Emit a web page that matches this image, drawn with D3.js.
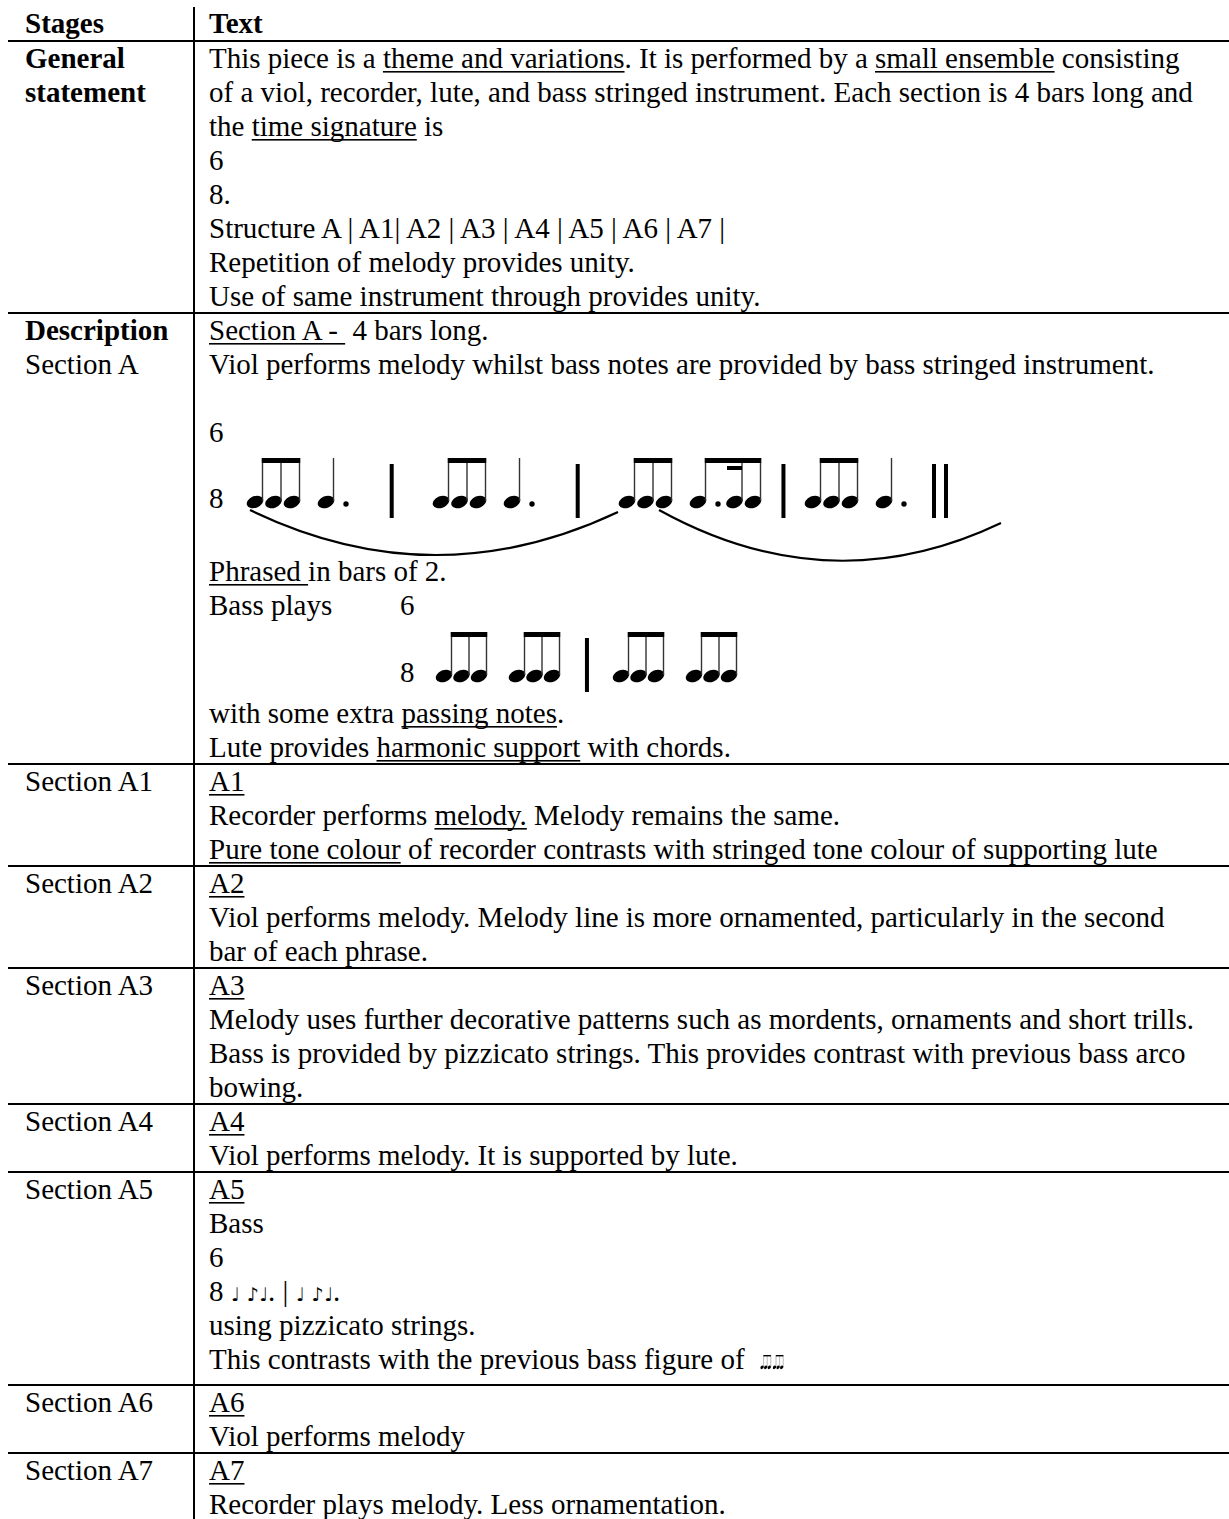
<!DOCTYPE html>
<html><head><meta charset="utf-8">
<script src="https://cdn.jsdelivr.net/npm/d3@7"></script>
<style>
html,body{margin:0;padding:0;background:#fff;}
svg{display:block;}
text{font-family:"Liberation Serif","Times New Roman",serif;font-size:29px;fill:#000;white-space:pre;}
tspan.mus{font-family:"DejaVu Sans",sans-serif;font-size:19px;}
</style></head><body>
<svg id="c" width="1229" height="1519"></svg>
<script>
// ---------- DATA ----------
const headers = ["Stages", "Text"];
// "*" prefix = bold label line
const stages = [
  ["*General", "*statement"],
  ["*Description", "Section A"],
  ["Section A1"],
  ["Section A2"],
  ["Section A3"],
  ["Section A4"],
  ["Section A5"],
  ["Section A6"],
  ["Section A7"]
];
// [..] = underlined, {melody}/{bass} = notation lines, {tab} = tab stop, {fig} = small bass figure
const textGeneral = [
  "This piece is a [theme and variations]. It is performed by a [small ensemble] consisting",
  "of a viol, recorder, lute, and bass stringed instrument. Each section is 4 bars long and",
  "the [time signature] is",
  "6",
  "8.",
  "Structure A | A1| A2 | A3 | A4 | A5 | A6 | A7 |",
  "Repetition of melody provides unity.",
  "Use of same instrument through provides unity."
];
const textSectionA = [
  "[Section A - ] 4 bars long.",
  "Viol performs melody whilst bass notes are provided by bass stringed instrument.",
  "",
  "6",
  "{melody}",
  "[Phrased ]in bars of 2.",
  "Bass plays{tab}6",
  "{bass}",
  "with some extra [passing notes].",
  "Lute provides [harmonic support] with chords."
];
const textA1 = [
  "[A1]",
  "Recorder performs [melody.] Melody remains the same.",
  "[Pure tone colour] of recorder contrasts with stringed tone colour of supporting lute"
];
const textA2 = [
  "[A2]",
  "Viol performs melody. Melody line is more ornamented, particularly in the second",
  "bar of each phrase."
];
const textA3 = [
  "[A3]",
  "Melody uses further decorative patterns such as mordents, ornaments and short trills.",
  "Bass is provided by pizzicato strings. This provides contrast with previous bass arco",
  "bowing."
];
const textA4 = [
  "[A4]",
  "Viol performs melody. It is supported by lute."
];
const textA5 = [
  "[A5]",
  "Bass",
  "6",
  "8 ♩ ♪♩. | ♩ ♪♩.",
  "using pizzicato strings.",
  "This contrasts with the previous bass figure of  {fig}"
];
const textA6 = ["[A6]", "Viol performs melody"];
const textA7 = ["[A7]", "Recorder plays melody. Less ornamentation."];
const cells = [textGeneral, textSectionA, textA1, textA2, textA3, textA4, textA5, textA6, textA7];

// rhythms in sixteenths: each bar = list of beats, each beat = list of note durations
const melodyBars = [
  [[2, 2, 2], [6]],
  [[2, 2, 2], [6]],
  [[2, 2, 2], [3, 1, 2]],
  [[2, 2, 2], [6]]
];
const bassBars = [
  [[2, 2, 2], [2, 2, 2]],
  [[2, 2, 2], [2, 2, 2]]
];
const bassFigure = [
  [[2, 2, 2], [2, 2, 2]]
];
// phrase slurs: from note [bar, beat, note] to note or to the end
const phrases = [
  {from: [0, 0, 0], to: [2, 0, 0]},
  {from: [2, 0, 2], to: null}
];

// ---------- LAYOUT ----------
const svg = d3.select("#c");
const W = 1229, H = 1519;
const colX = [25, 209], dividerX = 194, lineX0 = 8, tabX = 400;
const LH = 34, FIRST = 27, TAIL = 7;
const headerBase = 33, headerLine = 41;

function advanceFor(line, prev) {
  if (line === "{melody}") return 66;
  if (line === "{bass}") return 67;
  if (prev === "{melody}") return 73;
  if (prev === "{bass}") return 41;
  return LH;
}

function parseSegs(s) {
  const out = [];
  const re = /\[([^\]]*)\]/g;
  let last = 0, m;
  while ((m = re.exec(s))) {
    if (m.index > last) out.push({t: s.slice(last, m.index), u: false});
    out.push({t: m[1], u: true});
    last = re.lastIndex;
  }
  if (last < s.length) out.push({t: s.slice(last), u: false});
  const out2 = [];
  out.forEach(seg => {
    seg.t.split(/([♩♪]+)/).forEach(p => {
      if (p) out2.push({t: p, u: seg.u, m: /[♩♪]/.test(p)});
    });
  });
  return out2;
}

function drawText(g, s, x, y, bold) {
  const segs = parseSegs(s);
  const t = g.append("text").attr("x", x).attr("y", y);
  if (bold) t.attr("font-weight", "bold");
  segs.forEach(sg => {
    const ts = t.append("tspan").text(sg.t);
    if (sg.m) ts.attr("class", "mus");
  });
  const node = t.node();
  let idx = 0;
  segs.forEach(sg => {
    const n = sg.t.length;
    if (sg.u && n > 0) {
      const x1 = node.getStartPositionOfChar(idx).x;
      const x2 = node.getEndPositionOfChar(idx + n - 1).x;
      g.append("rect").attr("x", x1).attr("y", y + 3).attr("width", x2 - x1).attr("height", 1.6).attr("fill", "#000");
    }
    idx += n;
  });
  return node;
}

// draws notation with baseline at y=0 in group g
function drawBars(g, bars, o) {
  const xBar = d3.scaleLinear().domain([0, 1]).range([0, o.pitch]);
  const headDy = -6, beamTop = -50, stemOff = 7.5;
  const notes = [];
  const rights = [];
  bars.forEach((beats, b) => {
    let right = 0;
    beats.forEach((beat, k) => {
      let x = xBar(b) + k * o.beatGap;
      const xs = [];
      beat.forEach((d, i) => {
        xs.push(x);
        notes.push({b, k, i, x});
        x += o.step + (d === 3 ? o.dotExtra : 0);
      });
      xs.forEach(hx => {
        g.append("ellipse").attr("cx", hx).attr("cy", headDy).attr("rx", 8.6).attr("ry", 5.8)
          .attr("transform", `rotate(-22,${hx},${headDy})`).attr("fill", "#000");
        g.append("line").attr("x1", hx + stemOff).attr("x2", hx + stemOff)
          .attr("y1", headDy - 1).attr("y2", beamTop).attr("stroke", "#333").attr("stroke-width", 1.4);
      });
      if (beat.length === 1) {
        if (beat[0] === 6) {
          g.append("circle").attr("cx", xs[0] + 20).attr("cy", -4).attr("r", 2.7).attr("fill", "#000");
          right = xs[0] + 23;
        } else right = xs[0] + stemOff;
      } else {
        const bx1 = xs[0] + stemOff - 0.7, bx2 = xs[xs.length - 1] + stemOff + 0.7;
        g.append("rect").attr("x", bx1).attr("y", beamTop).attr("width", bx2 - bx1).attr("height", 5).attr("fill", "#000");
        beat.forEach((d, i) => {
          if (d === 3) g.append("circle").attr("cx", xs[i] + 20).attr("cy", -4).attr("r", 2.7).attr("fill", "#000");
          if (d === 1) g.append("rect").attr("x", xs[i] + stemOff - 15).attr("y", beamTop + 8).attr("width", 15).attr("height", 4).attr("fill", "#000");
        });
        right = xs[xs.length - 1] + stemOff;
      }
    });
    rights.push(right);
  });
  const barXs = [];
  for (let b = 0; b < bars.length - 1; b++) {
    const bx = (rights[b] + xBar(b + 1) - 8.6) / 2 + 1;
    barXs.push(bx);
  }
  let endX = rights[rights.length - 1];
  if (o.doubleBar) {
    barXs.push(endX + 27);
    barXs.push(endX + 39);
    endX = endX + 39;
  }
  if (o.barlines) {
    g.selectAll(null).data(barXs).join("rect")
      .attr("x", d => d - 2).attr("y", -44).attr("width", 4).attr("height", 54).attr("fill", "#000");
  }
  return {notes, endX};
}

const sepLines = []; // row separator y values
sepLines.push(headerLine);

// header
drawText(svg, headers[0], colX[0], headerBase, true);
drawText(svg, headers[1], colX[1], headerBase, true);

let rowTop = headerLine;
cells.forEach((cell, r) => {
  let y = rowTop + FIRST;
  let prev = null;
  stages[r].forEach((lab, i) => {
    const bold = lab.startsWith("*");
    drawText(svg, bold ? lab.slice(1) : lab, colX[0], rowTop + FIRST + i * LH, bold);
  });
  let extra = 0;
  cell.forEach((line, i) => {
    if (i > 0) y += advanceFor(line, prev);
    prev = line;
    if (line === "{melody}") {
      drawText(svg, "8", colX[1], y, false);
      const g = svg.append("g").attr("transform", `translate(${colX[1] + 46},${y})`);
      const res = drawBars(g, melodyBars, {pitch: 186, beatGap: 71, step: 18.5, dotExtra: 18, doubleBar: true, barlines: true});
      const find = a => res.notes.find(n => n.b === a[0] && n.k === a[1] && n.i === a[2]);
      phrases.forEach(p => {
        const s = find(p.from);
        const x1 = s.x - 5, y1 = 2;
        let x2, y2;
        if (p.to) { const e = find(p.to); x2 = e.x - 9; y2 = 4; }
        else { x2 = res.endX + 55; y2 = 15; }
        const cy = (y1 + y2) / 2 + 88;
        g.append("path").attr("d", `M${x1},${y1} Q${(x1 + x2) / 2},${cy} ${x2},${y2}`)
          .attr("fill", "none").attr("stroke", "#000").attr("stroke-width", 2.2);
      });
    } else if (line === "{bass}") {
      drawText(svg, "8", tabX, y, false);
      const g = svg.append("g").attr("transform", `translate(${tabX + 44},${y})`);
      drawBars(g, bassBars, {pitch: 177, beatGap: 73, step: 17.5, dotExtra: 0, doubleBar: false, barlines: true});
    } else if (line.includes("{tab}")) {
      const parts = line.split("{tab}");
      drawText(svg, parts[0], colX[1], y, false);
      drawText(svg, parts[1], tabX, y, false);
    } else if (line.includes("{fig}")) {
      const node = drawText(svg, line.replace("{fig}", ""), colX[1], y, false);
      const w = node.getComputedTextLength();
      const g = svg.append("g").attr("transform", `translate(${colX[1] + w + 3},${y}) scale(0.2,0.28)`);
      drawBars(g, bassFigure, {pitch: 120, beatGap: 62, step: 18, dotExtra: 0, doubleBar: false, barlines: false});
      extra = 9;
    } else if (line !== "") {
      drawText(svg, line, colX[1], y, false);
    }
  });
  rowTop = y + TAIL + extra;
  if (r < cells.length - 1) sepLines.push(rowTop);
});

svg.selectAll("rect.hline").data(sepLines).join("rect").attr("class", "hline")
  .attr("x", lineX0).attr("y", d => d - 1).attr("width", W - lineX0).attr("height", 2).attr("fill", "#000");
svg.append("rect").attr("x", dividerX - 1).attr("y", 7).attr("width", 2).attr("height", H - 7).attr("fill", "#000");
</script>
</body></html>
